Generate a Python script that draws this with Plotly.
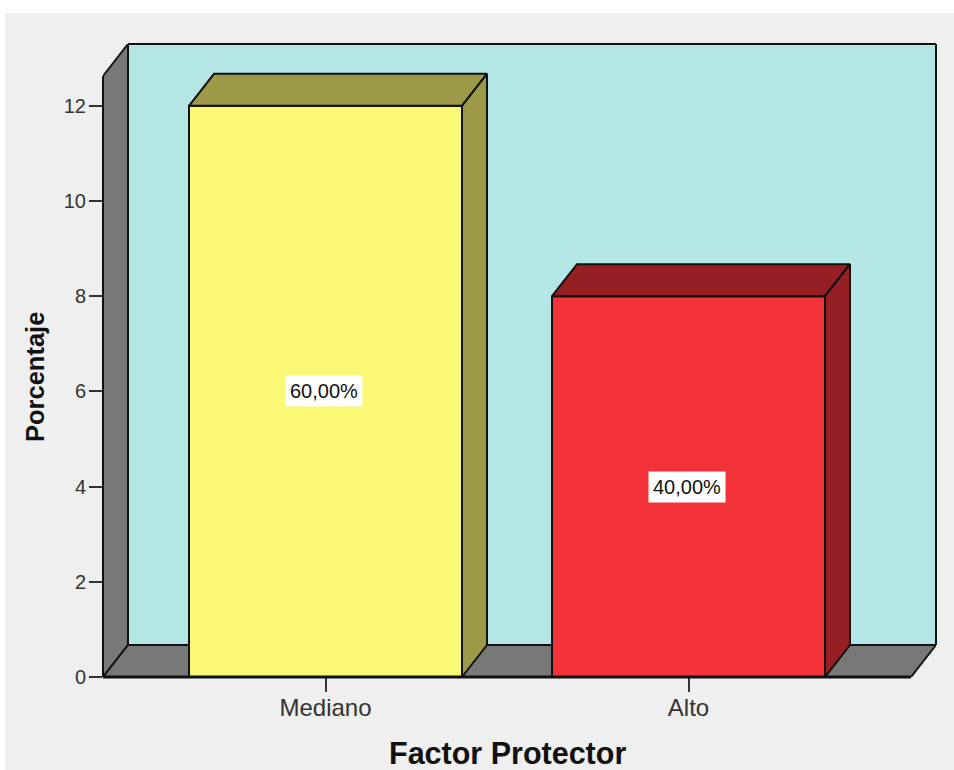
import plotly.graph_objects as go

# Data
categories = ["Mediano", "Alto"]
values = [12, 8]
labels = ["60,00%", "40,00%"]
y_ticks = [0, 2, 4, 6, 8, 10, 12]
x_title = "Factor Protector"
y_title = "Porcentaje"

# Style
BG = "#efefef"
WALL = "#b4e6e6"
GRAY = "#787878"
FRONT = ["#fbf875", "#f33339"]
DARK = ["#9c9a48", "#951f22"]
BLACK = "#111111"
FONT = "Liberation Sans, Arial, sans-serif"

PX_X, PX_Y = 363.0, 47.6      # pixels per data unit
DX, DY = 25 / PX_X, 32 / PX_Y  # 3D depth in data units
BAR_W = 273 / PX_X
X0, X1 = -222.5 / PX_X, 585.5 / PX_X
YTOP = 601 / PX_Y

cat_x = list(range(len(categories)))


def path(points):
    return "M" + " L".join(f"{x},{y}" for x, y in points) + " Z"


def poly(points, fill):
    return dict(type="path", xref="x", yref="y", layer="below", path=path(points),
                fillcolor=fill, line=dict(color=BLACK, width=2))


def edge(xref, yref, x0, y0, x1, y1, width=2):
    return dict(type="line", xref=xref, yref=yref, x0=x0, y0=y0, x1=x1, y1=y1, layer="above",
                line=dict(color=BLACK, width=width))


shapes = [
    dict(type="rect", xref="paper", yref="paper", layer="below",
         x0=-98 / 833, x1=1 + 18 / 833, y0=-93 / 633, y1=1 + 31 / 633,
         fillcolor=BG, line=dict(width=0)),
    poly([(X0 + DX, DY), (X1 + DX, DY), (X1 + DX, YTOP + DY), (X0 + DX, YTOP + DY)], WALL),
    poly([(X0, 0), (X0 + DX, DY), (X0 + DX, YTOP + DY), (X0, YTOP)], GRAY),
    poly([(X0, 0), (X1, 0), (X1 + DX, DY), (X0 + DX, DY)], GRAY),
    # edges lying on the plot boundary, which data-anchored shapes would clip
    edge("x", "paper", X0, 0, X1, 0, width=3),
    edge("paper", "y", 0, 0, 0, YTOP),
    edge("x", "paper", X0 + DX, 1, X1 + DX, 1),
    edge("paper", "y", 1, DY, 1, YTOP + DY),
]

fig = go.Figure()
fig.add_trace(go.Bar(x=cat_x, y=values, width=BAR_W, marker=dict(color=FRONT, line=dict(color=BLACK, width=2)),
                     hoverinfo="skip", cliponaxis=False))

for i, (cx, v) in enumerate(zip(cat_x, values)):
    l, r = cx - BAR_W / 2, cx + BAR_W / 2
    top = [(l, v), (r, v), (r + DX, v + DY), (l + DX, v + DY), (l, v)]
    side = [(r, 0), (r + DX, DY), (r + DX, v + DY), (r, v), (r, 0)]
    for pts in (top, side):
        fig.add_trace(go.Scatter(x=[p[0] for p in pts], y=[p[1] for p in pts], mode="lines",
                                 fill="toself", fillcolor=DARK[i], line=dict(color=BLACK, width=2),
                                 hoverinfo="skip", cliponaxis=False))

annotations = [
    dict(x=cx, y=v / 2, xshift=-2, text=t, showarrow=False, bgcolor="white", borderpad=4,
         font=dict(family=FONT, size=20, color="#111111"))
    for cx, v, t in zip(cat_x, values, labels)
]
annotations += [
    dict(xref="paper", yref="paper", x=(507 - 103) / 833, y=-76 / 633, text=f"<b>{x_title}</b>",
         yanchor="middle", showarrow=False, font=dict(family=FONT, size=30.5, color="#111111")),
    dict(xref="paper", yref="paper", x=-68 / 833, y=(677 - 377) / 633, text=f"<b>{y_title}</b>",
         xanchor="center", yanchor="middle", textangle=-90, showarrow=False,
         font=dict(family=FONT, size=25.5, color="#111111")),
]

fig.update_layout(
    width=954, height=770, margin=dict(l=103, r=18, t=44, b=93, autoexpand=False),
    paper_bgcolor="white", plot_bgcolor="rgba(0,0,0,0)", showlegend=False,
    shapes=shapes, annotations=annotations,
    xaxis=dict(range=[X0, X1 + DX], tickmode="array", tickvals=cat_x, ticktext=categories,
               ticks="outside", ticklen=14, tickwidth=2, tickcolor="#333333", showgrid=False, zeroline=False,
               tickfont=dict(family=FONT, size=24, color="#333333"), showline=False, ticklabelstandoff=-5),
    yaxis=dict(range=[0, YTOP + DY], tickmode="array", tickvals=y_ticks,
               ticks="outside", ticklen=13, tickwidth=2, tickcolor="#333333", showgrid=False, zeroline=False,
               tickfont=dict(family=FONT, size=20, color="#333333"), showline=False, ticklabelstandoff=-1),
)
fig.write_html("out.html", config=dict(displayModeBar=False), post_script="document.body.style.margin='0';")
